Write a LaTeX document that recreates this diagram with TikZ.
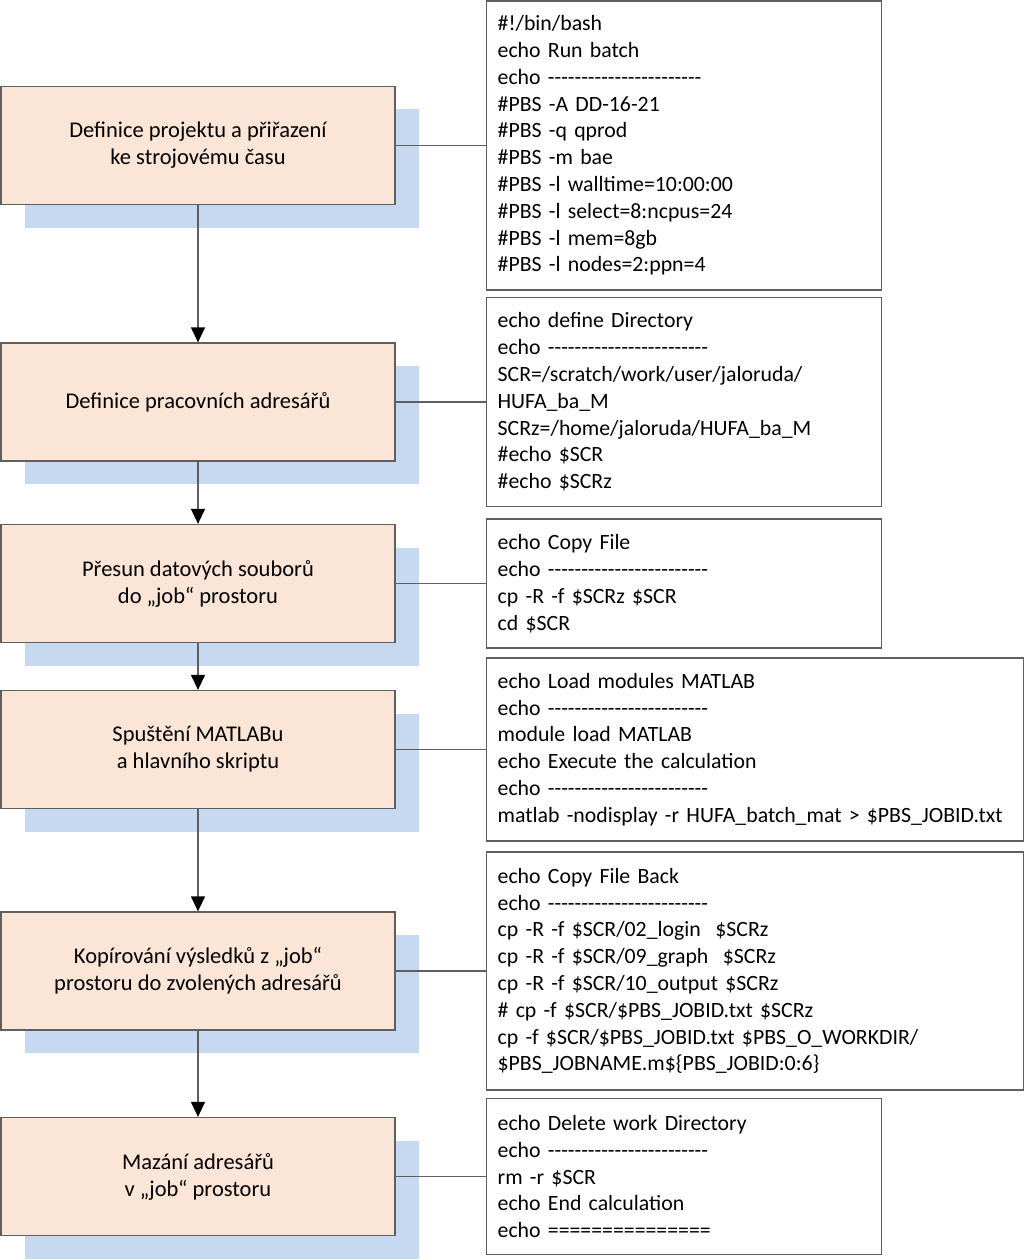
\documentclass[tikz,border=0pt]{standalone}
\usepackage{fontspec}
\setmainfont{Carlito}[Ligatures=TeXOff]
\usepackage{tikz}
\usetikzlibrary{arrows.meta, shadows}
\definecolor{phasefill}{RGB}{251,229,214}
\definecolor{shadowblue}{RGB}{199,216,241}
\definecolor{linegray}{RGB}{95,95,95}

\begin{document}
\begin{tikzpicture}[x=1pt,y=-1pt,%
    phase/.style={
      draw=linegray,
      line width=1.3pt,
      fill=phasefill,
      minimum width=394pt,
      minimum height=118pt,
      align=center,
      font=\fontsize{22.5pt}{27pt}\selectfont,
      drop shadow={shadow xshift=24pt,shadow yshift=-23pt,fill=shadowblue,opacity=1}
    },
    script/.style={
      draw=linegray,
      line width=1.3pt,
      fill=white,
      anchor=west,
      align=left,
      inner xsep=11pt,
      text width=373pt,
      font=\fontsize{21.8pt}{26.8pt}\selectfont
    },
    wide/.style={text width=515pt},
    link/.style={draw=linegray,line width=1.3pt}]
    \useasboundingbox (0,0) rectangle (1024,1260);

    \node[phase] at (198,145.5) (p1) {Definice projektu a přiřazení\\ke strojovému času};
    \node[phase] at (198,402) (p2) {Definice pracovních adresářů};
    \node[phase] at (198,583.5) (p3) {Přesun datových souborů\\do „job“ prostoru};
    \node[phase] at (198,749.5) (p4) {Spuštění MATLABu\\a hlavního skriptu};
    \node[phase] at (198,971) (p5) {Kopírování výsledků z „job“\\prostoru do zvolených adresářů};
    \node[phase] at (198,1176.5) (p6) {Mazání adresářů\\v „job“ prostoru};

    \node[script,minimum height=289pt] at (486,145.5) (s1) {\#!/bin/bash\\
      echo Run batch\\
      echo -----------------------\\
      \#PBS -A DD-16-21\\
      \#PBS -q qprod\\
      \#PBS -m bae\\
      \#PBS -l walltime=10:00:00\\
      \#PBS -l select=8:ncpus=24\\
      \#PBS -l mem=8gb\\
      \#PBS -l nodes=2:ppn=4};
    \node[script,minimum height=209pt] at (486,402) (s2) {echo define Directory\\
      echo ------------------------\\
      SCR=/scratch/work/user/jaloruda/\\
      HUFA\_ba\_M\\
      SCRz=/home/jaloruda/HUFA\_ba\_M\\
      \#echo \$SCR\\
      \#echo \$SCRz};
    \node[script,minimum height=129pt] at (486,583.5) (s3) {echo Copy File\\
      echo ------------------------\\
      cp -R -f \$SCRz \$SCR\\
      cd \$SCR};
    \node[script,wide,minimum height=183pt] at (486,749.5) (s4) {echo Load modules MATLAB\\
      echo ------------------------\\
      module load MATLAB\\
      echo Execute the calculation\\
      echo ------------------------\\
      matlab -nodisplay -r HUFA\_batch\_mat > \$PBS\_JOBID.txt};
    \node[script,wide,minimum height=238pt] at (486,971) (s5) {echo Copy File Back\\
      echo ------------------------\\
      cp -R -f \$SCR/02\_login\ \ \$SCRz\\
      cp -R -f \$SCR/09\_graph\ \ \$SCRz\\
      cp -R -f \$SCR/10\_output \$SCRz\\
      \# cp -f \$SCR/\$PBS\_JOBID.txt \$SCRz\\
      cp -f \$SCR/\$PBS\_JOBID.txt \$PBS\_O\_WORKDIR/\\
      \$PBS\_JOBNAME.m\$\{PBS\_JOBID:0:6\}};
    \node[script,minimum height=156pt] at (486,1176.5) (s6) {echo Delete work Directory\\
      echo ------------------------\\
      rm -r \$SCR\\
      echo End calculation\\
      echo ===============};

    \path[link,-{Triangle[width=14pt,length=15pt,color=black]}]
        (p1) edge (p2)
        (p2) edge (p3)
        (p3) edge (p4)
        (p4) edge (p5)
        (p5) edge (p6)
        ;

    \path[link]
        (p1) edge (s1)
        (p2) edge (s2)
        (p3) edge (s3)
        (p4) edge (s4)
        (p5) edge (s5)
        (p6) edge (s6)
        ;
\end{tikzpicture}
\end{document}
